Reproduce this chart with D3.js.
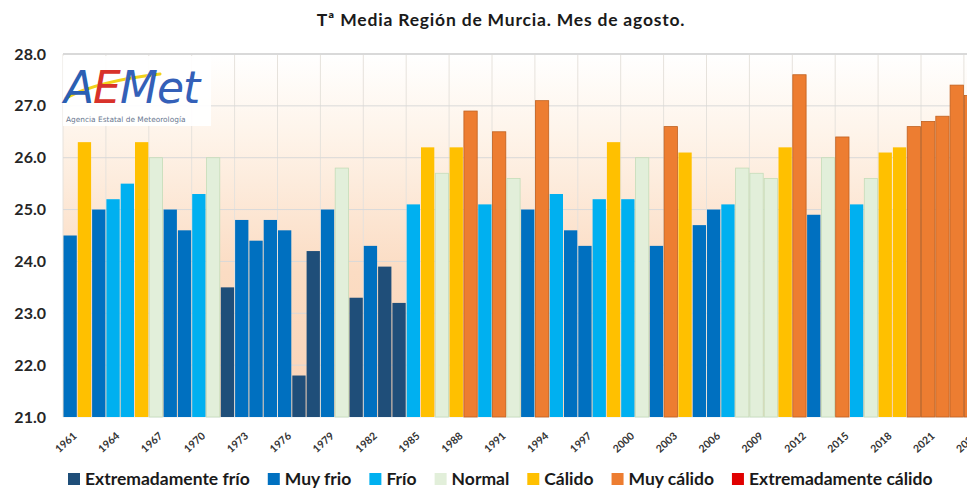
<!DOCTYPE html>
<html>
<head>
<meta charset="utf-8">
<script src="https://cdn.jsdelivr.net/npm/d3@7"></script>
<style>
  body { margin: 0; background: #fff; }
  svg { display: block; font-family: Lato, "Open Sans", sans-serif; }
</style>
</head>
<body>
<svg id="chart" width="967" height="488"></svg>
<script>
const years = [1961,1962,1963,1964,1965,1966,1967,1968,1969,1970,1971,1972,1973,1974,1975,1976,
  1977,1978,1979,1980,1981,1982,1983,1984,1985,1986,1987,1988,1989,1990,1991,1992,
  1993,1994,1995,1996,1997,1998,1999,2000,2001,2002,2003,2004,2005,2006,2007,2008,
  2009,2010,2011,2012,2013,2014,2015,2016,2017,2018,2019,2020,2021,2022,2023,2024]

const temps = [24.5,26.3,25.0,25.2,25.5,26.3,26.0,25.0,24.6,25.3,26.0,23.5,24.8,24.4,24.8,24.6,
  21.8,24.2,25.0,25.8,23.3,24.3,23.9,23.2,25.1,26.2,25.7,26.2,26.9,25.1,26.5,25.6,
  25.0,27.1,25.3,24.6,24.3,25.2,26.3,25.2,26.0,24.3,26.6,26.1,24.7,25.0,25.1,25.8,
  25.7,25.6,26.2,27.6,24.9,26.0,26.4,25.1,25.6,26.1,26.2,26.6,26.7,26.8,27.4,27.2]

// 0 ext. frío, 1 muy frío, 2 frío, 3 normal, 4 cálido, 5 muy cálido, 6 ext. cálido
const classes = [1,4,1,2,2,4,3,1,1,2,3,0,1,1,1,1,
  0,0,1,3,0,1,0,0,2,4,3,4,5,2,5,3,
  1,5,2,1,1,2,4,2,3,1,5,4,1,1,2,3,
  3,3,4,5,1,3,5,2,3,4,4,5,5,5,5,5]

const classNames = ['Extremadamente frío','Muy frio','Frío','Normal','Cálido','Muy cálido','Extremadamente cálido']
const classColors = ['#1f4e79','#0070c0','#00b0f0','#e2efda','#ffc000','#ed7d31','#e00000']
const classStrokes = ['none','none','none','#c5dcb8','none','#c0601f','none']

const yTicks = [21,22,23,24,25,26,27,28]
const labelYears = [1961,1964,1967,1970,1973,1976,1979,1982,1985,1988,1991,1994,1997,2000,
  2003,2006,2009,2012,2015,2018,2021,2024]

const title = 'Tª Media Región de Murcia. Mes de agosto.'

const svg = d3.select('#chart')
const plotLeft = 63, plotTop = 54, plotBottom = 417, bandW = 14.3
const plotRight = plotLeft + bandW * years.length

const x = d3.scaleBand().domain(years).range([plotLeft, plotRight]).paddingInner(0.07).paddingOuter(0.035)
const y = d3.scaleLinear().domain([21, 28]).range([plotBottom, plotTop])

// background gradient
const defs = svg.append('defs')
const grad = defs.append('linearGradient').attr('id', 'bg').attr('x1', 0).attr('y1', 0).attr('x2', 0).attr('y2', 1)
grad.append('stop').attr('offset', '0%').attr('stop-color', '#ffffff')
grad.append('stop').attr('offset', '22%').attr('stop-color', '#fef4ea')
grad.append('stop').attr('offset', '60%').attr('stop-color', '#fbdcc3')
grad.append('stop').attr('offset', '100%').attr('stop-color', '#f9d4b8')

svg.append('rect')
  .attr('x', plotLeft).attr('y', plotTop)
  .attr('width', plotRight - plotLeft).attr('height', plotBottom - plotTop)
  .attr('fill', 'url(#bg)')

// vertical grid, every 3 years at band edges
svg.append('g')
  .selectAll('line')
  .data(labelYears)
  .join('line')
  .attr('x1', d => x(d) - x.step() * x.paddingInner() / 2)
  .attr('x2', d => x(d) - x.step() * x.paddingInner() / 2)
  .attr('y1', plotTop).attr('y2', plotBottom)
  .attr('stroke', '#e6e2dc').attr('stroke-width', 1)

// horizontal grid
svg.append('g')
  .selectAll('line')
  .data(yTicks)
  .join('line')
  .attr('x1', plotLeft).attr('x2', plotRight)
  .attr('y1', d => y(d)).attr('y2', d => y(d))
  .attr('stroke', d => d === 21 ? '#e8eef4' : '#d9d9d9')
  .attr('stroke-width', d => d === 28 ? 2 : 1)

// logo
const logo = svg.append('g')
logo.append('rect').attr('x', 63).attr('y', 56).attr('width', 148).attr('height', 70).attr('fill', '#ffffff').attr('opacity', 0.92)
logo.append('path')
  .attr('d', 'M66,98 C92,84 125,78 160,74')
  .attr('fill', 'none').attr('stroke', '#f2d21b').attr('stroke-width', 3).attr('stroke-linecap', 'round')
const lt = logo.append('text').attr('x', 64).attr('y', 103)
  .attr('font-family', '"DejaVu Sans", sans-serif').attr('font-style', 'italic')
  .attr('font-size', 44).attr('font-weight', 300).attr('letter-spacing', -1)
lt.append('tspan').attr('fill', '#2b5fb3').text('A')
lt.append('tspan').attr('fill', '#d8322a').text('E')
lt.append('tspan').attr('fill', '#3460b8').text('Met')
logo.append('text').attr('x', 66).attr('y', 122)
  .attr('font-family', '"DejaVu Sans", sans-serif').attr('font-size', 7.4).attr('fill', '#6a7890')
  .text('Agencia Estatal de Meteorología')

// bars
svg.append('g')
  .selectAll('rect')
  .data(years)
  .join('rect')
  .attr('x', d => x(d))
  .attr('width', x.bandwidth())
  .attr('y', (d, i) => y(temps[i]))
  .attr('height', (d, i) => y(21) - y(temps[i]))
  .attr('fill', (d, i) => classColors[classes[i]])
  .attr('stroke', (d, i) => classStrokes[classes[i]])
  .attr('stroke-width', 0.8)

// y axis labels
svg.append('g')
  .selectAll('text')
  .data(yTicks)
  .join('text')
  .attr('x', 46).attr('y', d => y(d))
  .attr('dy', '0.35em')
  .attr('text-anchor', 'end')
  .attr('font-size', 16).attr('font-weight', 700).attr('fill', '#262626')
  .text(d => d3.format('.1f')(d))

// x axis labels
svg.append('g')
  .selectAll('text')
  .data(labelYears)
  .join('text')
  .attr('transform', d => 'translate(' + (x(d) + x.bandwidth() / 2 + 2) + ',431) rotate(-42)')
  .attr('dy', '0.75em')
  .attr('text-anchor', 'end')
  .attr('font-size', 10.5).attr('font-weight', 700).attr('fill', '#333')
  .text(d => d)

// title
svg.append('text')
  .attr('x', 501).attr('y', 26)
  .attr('text-anchor', 'middle')
  .attr('font-size', 17.5).attr('font-weight', 700).attr('letter-spacing', 0.8).attr('fill', '#1a1a1a')
  .text(title)

// legend
const legend = svg.append('g').attr('transform', 'translate(68,479)')
let lx = 0
classNames.forEach((name, i) => {
  const g = legend.append('g').attr('transform', 'translate(' + lx + ',0)')
  g.append('rect').attr('x', 0).attr('y', -6).attr('width', 12).attr('height', 12).attr('fill', classColors[i])
  const t = g.append('text').attr('x', 17).attr('y', 0).attr('dy', '0.36em')
    .attr('font-size', 17.5).attr('font-weight', 700).attr('fill', '#1a1a1a')
    .text(name)
  lx += 17 + t.node().getComputedTextLength() + 18
})
</script>
</body>
</html>
